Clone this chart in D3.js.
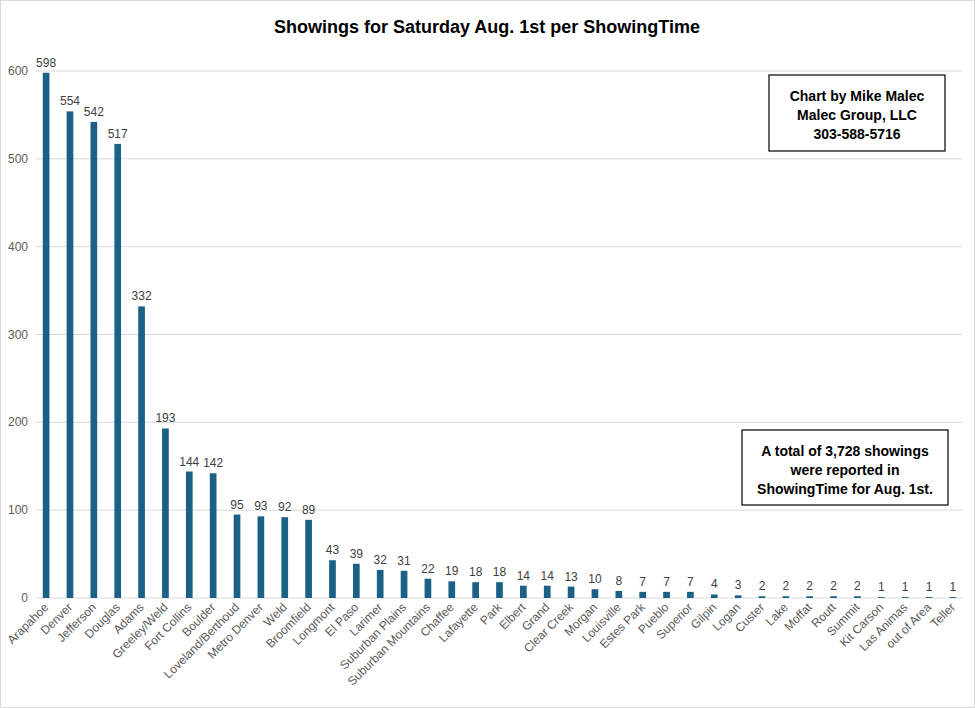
<!DOCTYPE html>
<html><head><meta charset="utf-8">
<script src="https://cdn.jsdelivr.net/npm/d3@7"></script>
<style>body{margin:0;background:#fff}svg{font-family:Arial,"Liberation Sans",sans-serif}</style>
</head><body><svg id="chart" width="975" height="708"></svg>
<script>
// Data
var areas = ["Arapahoe","Denver","Jefferson","Douglas","Adams","Greeley/Weld","Fort Collins","Boulder","Loveland/Berthoud","Metro Denver","Weld","Broomfield","Longmont","El Paso","Larimer","Suburban Plains","Suburban Mountains","Chaffee","Lafayette","Park","Elbert","Grand","Clear Creek","Morgan","Louisville","Estes Park","Pueblo","Superior","Gilpin","Logan","Custer","Lake","Moffat","Routt","Summit","Kit Carson","Las Animas","out of Area","Teller"];
var showings = [598,554,542,517,332,193,144,142,95,93,92,89,43,39,32,31,22,19,18,18,14,14,13,10,8,7,7,7,4,3,2,2,2,2,2,1,1,1,1];
var yTicks = [0,100,200,300,400,500,600];

var svg = d3.select("#chart");
svg.append("rect").attr("x",0.5).attr("y",0.5).attr("width",974).attr("height",707)
  .attr("fill","#fff").attr("stroke","#d9d9d9");

var x = d3.scaleBand().domain(areas).range([38, 961]).paddingInner(0.72).paddingOuter(0.2);
var y = d3.scaleLinear().domain([0,600]).range([598, 71]);

// Gridlines
svg.selectAll(".grid").data(yTicks).enter().append("line")
  .attr("x1",36).attr("x2",962).attr("y1",function(d){return y(d)}).attr("y2",function(d){return y(d)})
  .attr("stroke","#d9d9d9");

svg.selectAll(".ytick").data(yTicks).enter().append("text")
  .attr("x",28).attr("y",function(d){return y(d)+4}).attr("text-anchor","end")
  .attr("font-size",12).attr("fill","#595959").text(function(d){return d});

// Bars
svg.selectAll(".bar").data(showings).enter().append("rect")
  .attr("x",function(d,i){return x(areas[i])}).attr("width",x.bandwidth())
  .attr("y",function(d){return y(d)}).attr("height",function(d){return y(0)-y(d)})
  .attr("fill","#1b6187");

svg.selectAll(".val").data(showings).enter().append("text")
  .attr("x",function(d,i){return x(areas[i])+x.bandwidth()/2}).attr("y",function(d){return y(d)-6})
  .attr("text-anchor","middle").attr("font-size",12).attr("fill","#404040").text(function(d){return d});

// Category labels
svg.selectAll(".cat").data(areas).enter().append("text")
  .attr("transform",function(d){return "translate("+(x(d)+x.bandwidth()/2+3)+",608) rotate(-45)"})
  .attr("text-anchor","end").attr("font-size",12).attr("fill","#595959").text(function(d){return d});

// Title
svg.append("text").attr("x",487).attr("y",33).attr("text-anchor","middle")
  .attr("font-size",18).attr("font-weight","bold").attr("fill","#000")
  .text("Showings for Saturday Aug. 1st per ShowingTime");

function box(x0,y0,w,h,lines){
  svg.append("rect").attr("x",x0).attr("y",y0).attr("width",w).attr("height",h)
    .attr("fill","#fff").attr("stroke","#000").attr("stroke-width",1.2);
  lines.forEach(function(t,i){
    svg.append("text").attr("x",x0+w/2).attr("y",y0+26+i*19).attr("text-anchor","middle")
      .attr("font-size",14).attr("font-weight","bold").text(t);
  });
}
box(769,75,176,76,["Chart by Mike Malec","Malec Group, LLC","303-588-5716"]);
box(742,430,206,75,["A total of 3,728 showings","were reported in","ShowingTime for Aug. 1st."]);
</script></body></html>
